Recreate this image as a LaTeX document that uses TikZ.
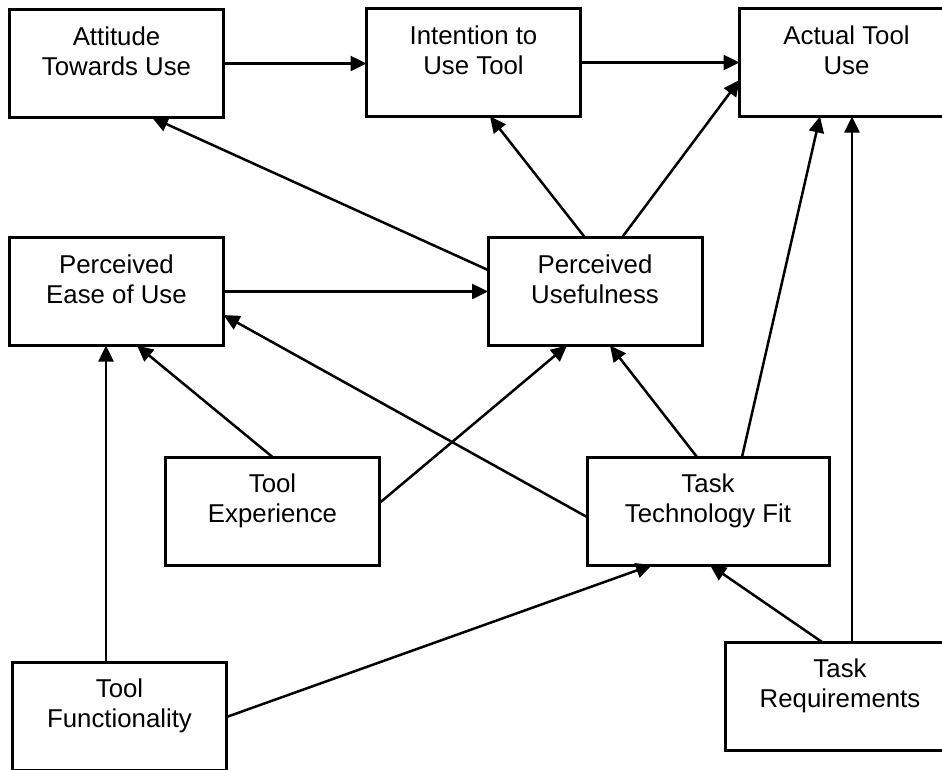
\documentclass[tikz,border=0pt]{standalone}
\usepackage{fontspec}
\setmainfont{Liberation Sans}
\usetikzlibrary{arrows.meta,calc}
\begin{document}
\begin{tikzpicture}[x=1pt,y=-1pt,
  box/.style={draw, line width=3pt, rectangle, inner sep=0pt, outer sep=0pt,
    minimum width=#1, minimum height=108pt},
  box/.default=214pt,
  boxtext/.style={anchor=north, yshift=-17pt, align=center, inner sep=0pt,
    label distance=0pt, font=\fontsize{25.8}{30}\selectfont},
  arr/.style={line width=2.5pt, -{Triangle[length=16pt,width=15pt]}}]
\clip (0,0) rectangle (942,769);
\fill[white] (0,0) rectangle (942,769);

% top row
\node[box, label={[boxtext]north:Attitude\\Towards Use}] (att) at (116.5,63.5) {};
\node[box, label={[boxtext]north:Intention to\\Use Tool}] (int) at (473.5,62.5) {};
\node[box, label={[boxtext]north:Actual Tool\\Use}] (act) at (846.5,62.5) {};
% middle row
\node[box, label={[boxtext]north:Perceived\\Ease of Use}] (peou) at (116.5,291.5) {};
\node[box, label={[boxtext]north:Perceived\\Usefulness}] (pu) at (595,291.5) {};
% lower row
\node[box, label={[boxtext]north:Tool\\Experience}] (te) at (272.5,511) {};
\node[box=242pt, label={[boxtext]north:Task\\Technology Fit}] (ttf) at (708,511) {};
% bottom row
\node[box, label={[boxtext]north:Tool\\Functionality}] (tf) at (119.5,716) {};
\node[box=230pt, label={[boxtext]north:Task\\Requirements}] (tr) at (840,696) {};

% connectors
\draw[arr] (att.east) -- (att.east -| int.west);
\draw[arr] (int.east) -- (int.east -| act.west);
\draw[arr] ($(pu.west)+(0,-21.5)$) -- ($(att.south)+(35.5,0)$);
\draw[arr] ($(pu.north)+(-10,0)$) -- ($(int.south)+(16.5,0)$);
\draw[arr] ($(pu.north)+(27,0)$) -- ($(act.west)+(0,17.5)$);
\draw[arr] (peou.east) -- (pu.west);
\draw[arr] ($(ttf.west)+(0,6)$) -- ($(peou.east)+(0,23.5)$);
\draw[arr] ($(ttf.north)+(-11,0)$) -- ($(pu.south)+(15,0)$);
\draw[arr] ($(ttf.north)+(34,0)$) -- ($(act.south)+(-26.5,0)$);
\coordinate (trup) at ($(tr.north)+(12,0)$);
\draw[arr] (trup) -- (trup |- act.south);
\draw[arr] ($(tr.north)+(-18,0)$) -- ($(ttf.south)+(2,0)$);
\coordinate (tfup) at ($(tf.north)+(-13.5,0)$);
\draw[arr] (tfup) -- (tfup |- peou.south);
\draw[arr] ($(tf.east)+(0,1)$) -- ($(ttf.south)+(-56,0)$);
\draw[arr] (te.north) -- ($(peou.south)+(20.5,0)$);
\draw[arr] ($(te.east)+(0,-8)$) -- ($(pu.south)+(-28,0)$);
\end{tikzpicture}
\end{document}
